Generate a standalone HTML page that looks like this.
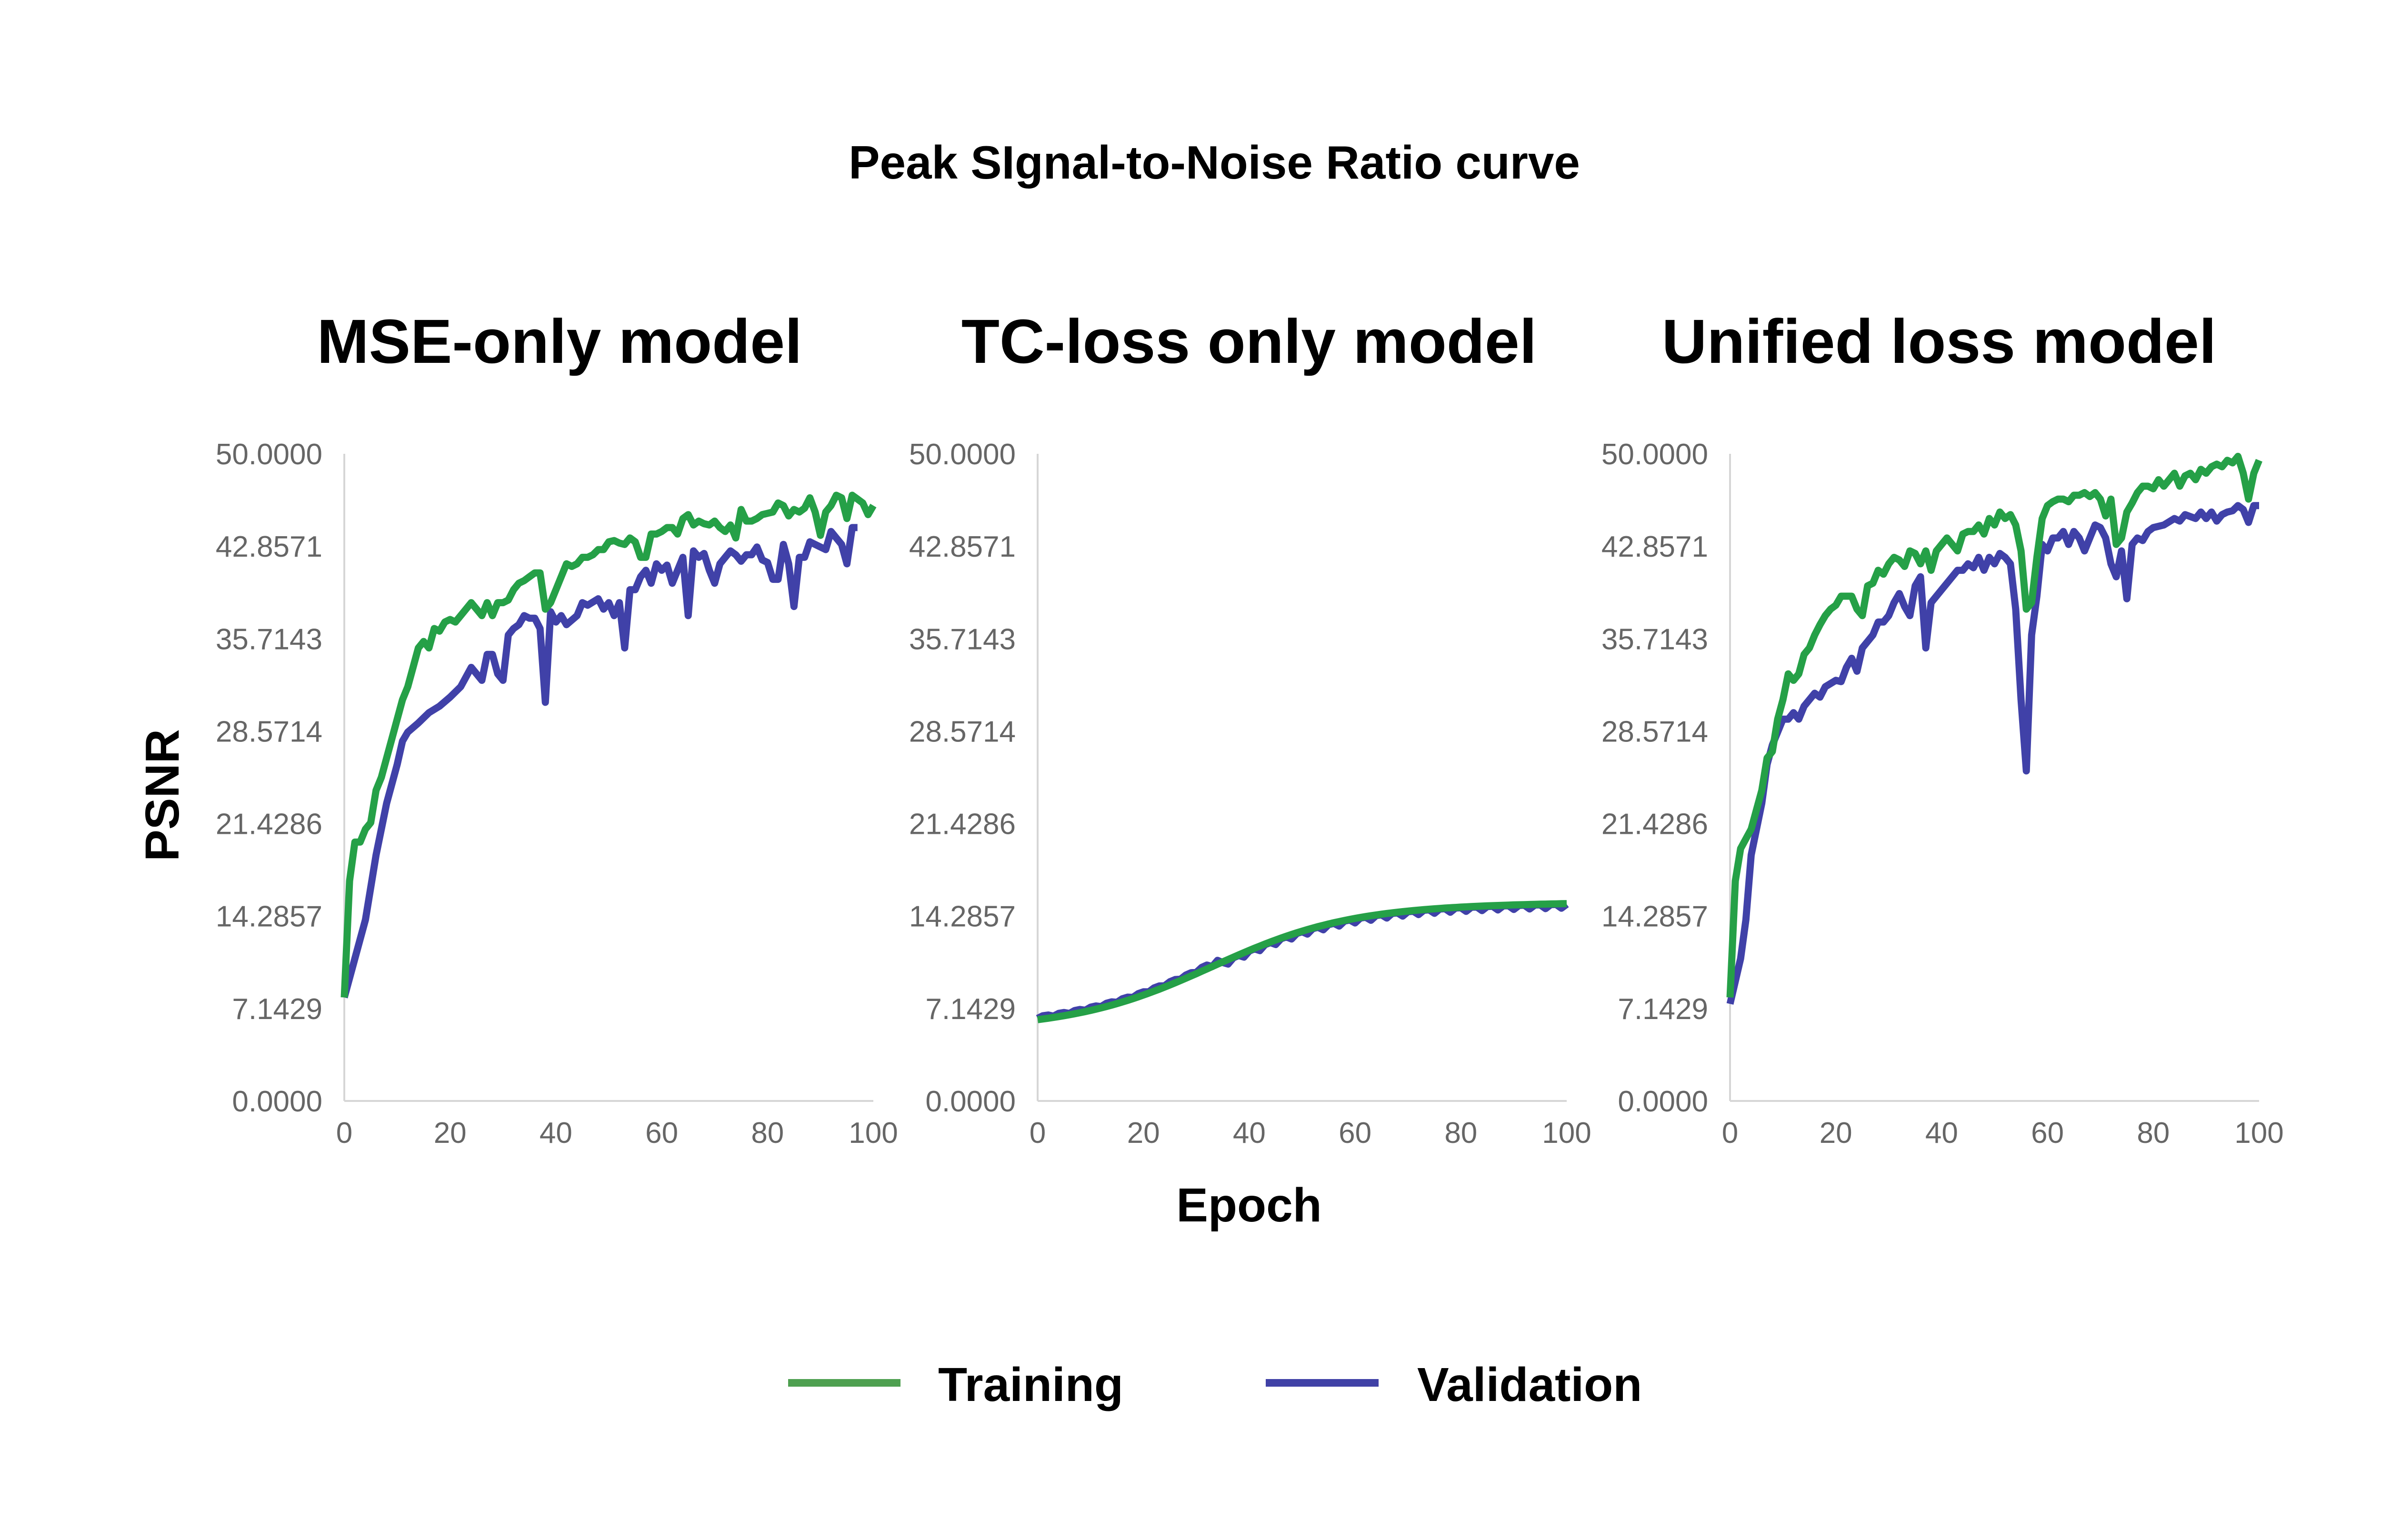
<!DOCTYPE html>
<html><head><meta charset="utf-8"><style>
html,body{margin:0;padding:0;background:#fff;}
svg{display:block;}
text{font-family:"Liberation Sans",Arial,sans-serif;}
</style></head><body>
<svg id="s" width="5100" height="3234" viewBox="0 0 5100 3234" xmlns="http://www.w3.org/2000/svg">
<rect width="5100" height="3234" fill="#fff"/>
<text x="2550" y="375" font-size="98" font-weight="bold" text-anchor="middle">Peak SIgnal-to-Noise Ratio curve</text>
<text x="1175" y="762" font-size="131" font-weight="bold" text-anchor="middle">MSE-only model</text>
<text x="2623" y="762" font-size="131" font-weight="bold" text-anchor="middle">TC-loss only model</text>
<text x="4072" y="762" font-size="131" font-weight="bold" text-anchor="middle">Unified loss model</text>
<text transform="translate(375,1670) rotate(-90)" font-size="100" font-weight="bold" text-anchor="middle">PSNR</text>
<text x="2623" y="2565" font-size="100" font-weight="bold" text-anchor="middle">Epoch</text>
<rect x="1655" y="2896" width="236" height="16" fill="#4ea050"/>
<text x="1970" y="2942" font-size="100" font-weight="bold">Training</text>
<rect x="2658" y="2896" width="237" height="16" fill="#4041a6"/>
<text x="2976" y="2942" font-size="100" font-weight="bold">Validation</text>
<g id="charts"></g>
</svg>
<script>
var NS="http://www.w3.org/2000/svg";
function P(s){return s.trim().split(/\s+/).map(function(t){var a=t.split(':');return [+a[0],+a[1]];});}
var mseT=P("0:8 1:17 2:20 3:20 4:21 5:21.5 6:24 7:25 8:26.5 9:28 10:29.5 11:31 12:32 13:33.5 14:35 15:35.5 16:35 17:36.5 18:36.3 19:37 20:37.2 21:37 22:37.5 23:38 24:38.5 25:38 26:37.5 27:38.5 28:37.5 29:38.5 30:38.5 31:38.7 32:39.5 33:40 34:40.2 35:40.5 36:40.8 37:40.8 38:38 39:38.5 40:39.5 41:40.5 42:41.5 43:41.3 44:41.5 45:42 46:42 47:42.2 48:42.6 49:42.6 50:43.2 51:43.3 52:43.1 53:43 54:43.5 55:43.2 56:42 57:42 58:43.8 59:43.8 60:44 61:44.3 62:44.3 63:43.8 64:45 65:45.3 66:44.5 67:44.8 68:44.6 69:44.5 70:44.8 71:44.3 72:44 73:44.5 74:43.5 75:45.7 76:44.8 77:44.8 78:45 79:45.3 80:45.4 81:45.5 82:46.2 83:46 84:45.2 85:45.7 86:45.5 87:45.8 88:46.6 89:45.5 90:43.7 91:45.5 92:46 93:46.8 94:46.6 95:45 96:46.8 97:46.5 98:46.2 99:45.3 100:46");
var mseV=P("0:8 2:11 4:14 6:19 8:23 10:26 11:27.8 12:28.5 14:29.2 16:30 18:30.5 20:31.2 22:32 24:33.5 25:33 26:32.5 27:34.5 28:34.5 29:33 30:32.5 31:36 32:36.5 33:36.8 34:37.5 35:37.3 36:37.3 37:36.5 38:30.8 39:37.8 40:37 41:37.5 42:36.8 44:37.5 45:38.5 46:38.3 48:38.8 49:38 50:38.5 51:37.5 52:38.5 53:35 54:39.5 55:39.5 56:40.5 57:41 58:40 59:41.5 60:41 61:41.4 62:40 63:41 64:42 65:37.5 66:42.5 67:42 68:42.3 69:41 70:40 71:41.5 72:42 73:42.5 74:42.2 75:41.7 76:42.2 77:42.2 78:42.8 79:41.8 80:41.6 81:40.3 82:40.3 83:43 84:41.5 85:38.2 86:42 87:42 88:43.2 89:43 90:42.8 91:42.6 92:44 93:43.5 94:43 95:41.5 96:44.3 97:44.3");
function tcf(e){return 5.9+9.3/(1+Math.exp(-(e-33)/13))-0.3+0.004*e;}
var tcT=[],tcV=[];
for(var e=0;e<=100;e++){tcT.push([e,tcf(e)]);tcV.push([e,tcf(e)+(e<35?0.2:-0.15)+(e%3==0?-0.2:0.1)*(e>30?1:0.5)]);}
var uT=P("0:8 1:17 2:19.5 4:21 6:24 7:26.5 8:27 9:29.5 10:31 11:33 12:32.5 13:33 14:34.5 15:35 16:36 17:36.8 18:37.5 19:38 20:38.3 21:39 22:39 23:39 24:38 25:37.5 26:39.8 27:40 28:41 29:40.7 30:41.5 31:42 32:41.8 33:41.3 34:42.5 35:42.3 36:41.5 37:42.5 38:41 39:42.5 40:43 41:43.5 42:43 43:42.5 44:43.8 45:44 46:44 47:44.5 48:43.8 49:45 50:44.5 51:45.5 52:45 53:45.3 54:44.5 55:42.5 56:38 57:38.5 58:42 59:45 60:46 61:46.3 62:46.5 63:46.5 64:46.3 65:46.8 66:46.8 67:47 68:46.7 69:47 70:46.5 71:45.2 72:46.5 73:43 74:43.5 75:45.5 76:46.2 77:47 78:47.5 79:47.5 80:47.3 81:48 82:47.5 83:48 84:48.5 85:47.5 86:48.3 87:48.5 88:48 89:48.8 90:48.5 91:49 92:49.2 93:49 94:49.5 95:49.3 96:49.8 97:48.5 98:46.5 99:48.5 100:49.5");
var uV=P("0:7.5 2:11 3:14 4:19 6:23 7:26 8:27.5 9:28.5 10:29.5 11:29.5 12:30 13:29.5 14:30.5 16:31.5 17:31.2 18:32 20:32.5 21:32.4 22:33.5 23:34.2 24:33.2 25:35 26:35.5 27:36 28:37 29:37 30:37.5 31:38.5 32:39.2 33:38.2 34:37.5 35:39.8 36:40.5 37:35 38:38.5 39:39 40:39.5 42:40.5 43:41 44:41 45:41.5 46:41.2 47:42 48:41 49:42 50:41.5 51:42.3 52:42 53:41.5 54:38 55:31 56:25.5 57:36 58:39 59:43 60:42.5 61:43.5 62:43.5 63:44 64:43 65:44 66:43.5 67:42.5 68:43.5 69:44.5 70:44.3 71:43.5 72:41.5 73:40.5 74:42.5 75:38.8 76:43 77:43.5 78:43.3 79:44 80:44.3 82:44.5 84:45 85:44.8 86:45.3 88:45 89:45.5 90:45 91:45.5 92:44.8 93:45.3 94:45.5 95:45.6 96:46 97:45.7 98:44.7 99:46 100:46");
var g=document.getElementById('charts');
function el(n,a,t){var e=document.createElementNS(NS,n);for(var k in a)e.setAttribute(k,a[k]);if(t!==undefined)e.textContent=t;g.appendChild(e);return e;}
var X0=[723,2179,3633],W=1111,Y0=2312,YT=953,H=Y0-YT;
var ticks=["0.0000","7.1429","14.2857","21.4286","28.5714","35.7143","42.8571","50.0000"];
var data=[[mseT,mseV],[tcT,tcV],[uT,uV]];
for(var c=0;c<3;c++){
 var x0=X0[c];
 el('line',{x1:x0,y1:YT,x2:x0,y2:Y0,stroke:'#d6d6d6','stroke-width':4});
 el('line',{x1:x0,y1:Y0,x2:x0+W,y2:Y0,stroke:'#d6d6d6','stroke-width':4});
 for(var i=0;i<8;i++){el('text',{x:x0-46,y:Y0-i*H/7+22,'font-size':62,fill:'#666','text-anchor':'end'},ticks[i]);}
 for(var i=0;i<=5;i++){el('text',{x:x0+i*W/5,y:2400,'font-size':62,fill:'#666','text-anchor':'middle'},String(i*20));}
 var cols=['#4041a8','#25a047'];
 [1,0].forEach(function(k){
  var pts=data[c][k].map(function(p){return (x0+p[0]*W/100).toFixed(1)+','+(Y0-p[1]/50*H).toFixed(1);}).join(' ');
  el('polyline',{points:pts,fill:'none',stroke:k?cols[0]:cols[1],'stroke-width':15,'stroke-linejoin':'round'});
 });
}
</script>
</body></html>
